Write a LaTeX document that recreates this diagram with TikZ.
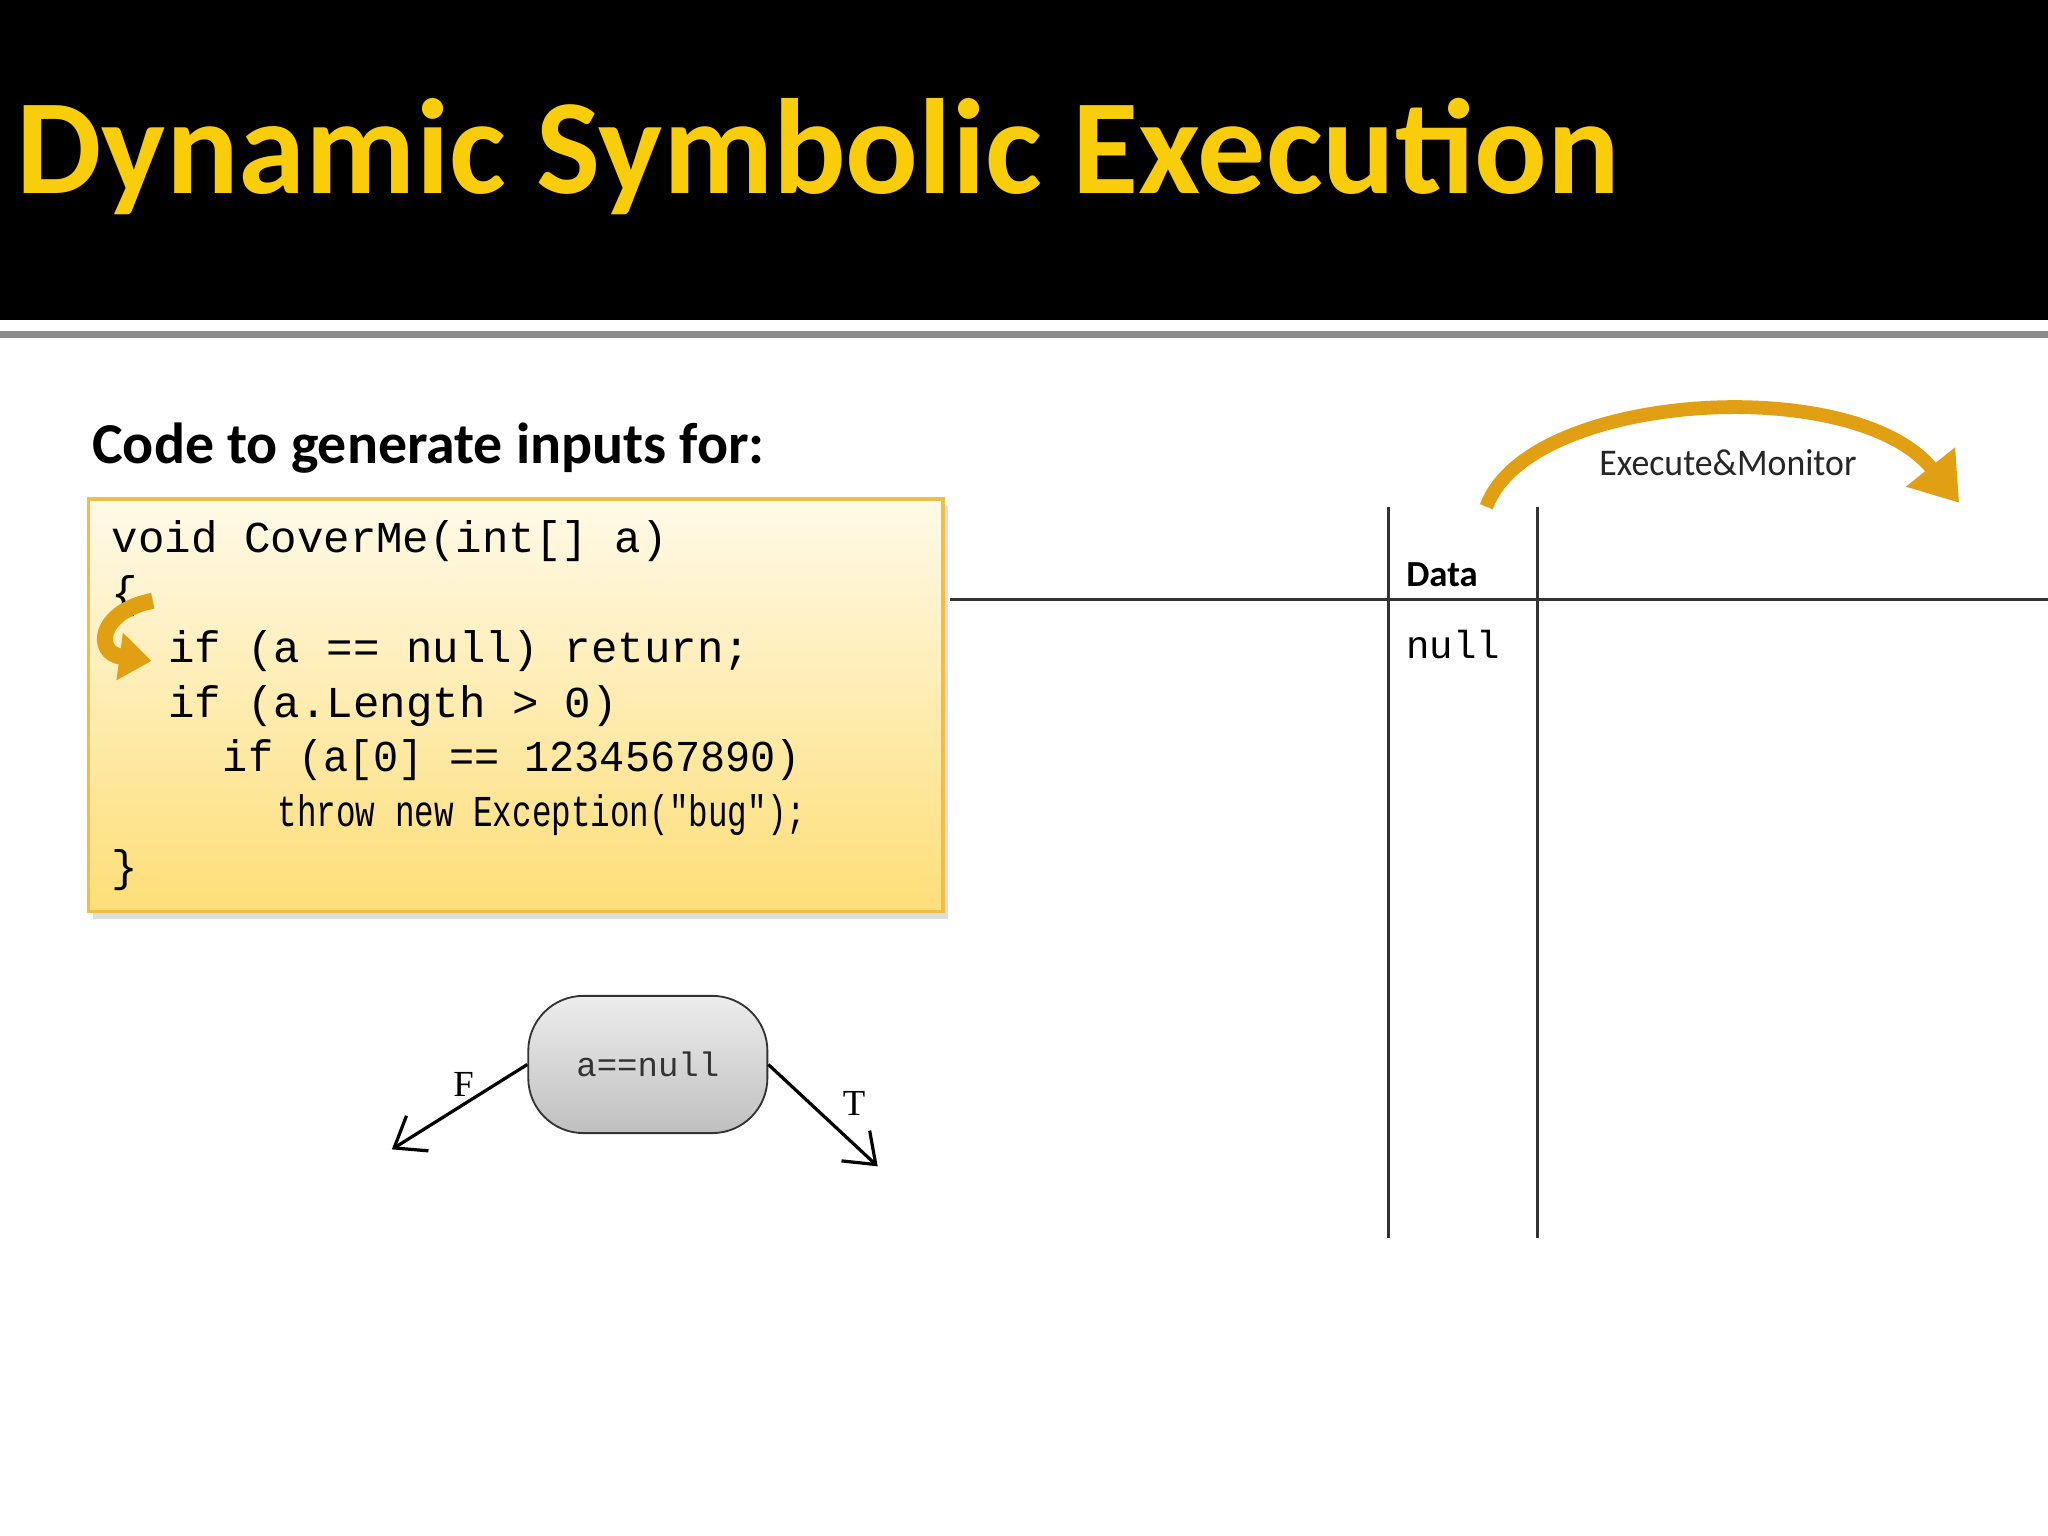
\documentclass[tikz,border=0pt]{standalone}
\usepackage{fontspec}
\setmainfont{Carlito}
\setmonofont{Liberation Mono}
\newfontfamily\serifl{Liberation Serif}
\usetikzlibrary{shadows,arrows.meta}
\definecolor{titley}{RGB}{250,205,10}
\definecolor{boxtop}{RGB}{255,250,232}
\definecolor{boxbot}{RGB}{254,222,120}
\definecolor{boxline}{RGB}{240,190,70}
\definecolor{arrowor}{RGB}{225,160,20}
\tikzset{
  codeline/.style={anchor=base west,inner sep=0pt,font=\ttfamily\fontsize{9.6pt}{10pt}\selectfont},
  tabline/.style={draw=black!80,line width=0.6pt},
  branch/.style={-{Straight Barb[length=6pt,width=9pt]},line width=0.7pt},
  lbl/.style={font=\serifl\fontsize{8pt}{9pt}\selectfont}
}
\begin{document}
\begin{tikzpicture}[x=0.01cm,y=-0.01cm]
\useasboundingbox (0,0) rectangle (1568,1176);
\fill[white] (0,0) rectangle (1568,1176);
\fill[black] (0,0) rectangle (1568,245);
\draw[black!45,line width=1.5pt] (0,256) -- (1568,256);
\node[anchor=base west,inner sep=0pt,text=titley,font=\bfseries\fontsize{29.5pt}{33pt}\selectfont] (title) at (12,148) {Dynamic Symbolic Execution};
\node[anchor=base west,inner sep=0pt,font=\bfseries\fontsize{12.6pt}{14pt}\selectfont] (sub) at (70,355) {Code to generate inputs for:};
% code box
\shade[top color=boxtop,bottom color=boxbot,drop shadow={opacity=0.25,shadow xshift=1pt,shadow yshift=-1.5pt}] (68,382) rectangle (722,698);
\draw[boxline,line width=0.7pt] (68,382) rectangle (722,698);
\node[codeline] (l1) at (85,423) {void CoverMe(int[] a)};
\node[codeline] (l2) at (85,465) {\{};
\node[codeline] (l3) at (128,507) {if (a == null) return;};
\node[codeline] (l4) at (128,549) {if (a.Length > 0)};
\node[codeline,xscale=0.95] (l5) at (170,591) {if (a[0] == 1234567890)};
\node[codeline,xscale=0.74] (l6) at (212,633) {throw new Exception("bug");};
\node[codeline] (l7) at (85,675) {\}};
% curved pointer arrow
\draw[arrowor,line width=3.5pt,-{Triangle[length=7pt,width=10pt]}] (117,460) .. controls (75,468) and (72,500) .. (116,506);
% decision node
\node[draw=black!80,rounded corners=12pt,minimum width=1.83cm,minimum height=1.05cm,top color=black!7,bottom color=black!25,font=\ttfamily\fontsize{7.4pt}{9pt}\selectfont,text=black!80] (dec) at (496,815) {a==null};
\coordinate (fend) at (300,880);
\coordinate (tend) at (672,893);
\draw[branch] (dec.west) -- (fend);
\draw[branch] (dec.east) -- (tend);
\node[lbl] (F) at (355,830) {F};
\node[lbl] (T) at (654,845) {T};
% table
\coordinate (h1) at (727,459); \coordinate (h2) at (1568,459);
\coordinate (v1a) at (1063,388); \coordinate (v1b) at (1063,948);
\coordinate (v2a) at (1177,388); \coordinate (v2b) at (1177,948);
\draw[tabline] (h1) -- (h2);
\draw[tabline] (v1a) -- (v1b);
\draw[tabline] (v2a) -- (v2b);
\node[anchor=base west,inner sep=0pt,font=\bfseries\fontsize{8pt}{9pt}\selectfont] (data) at (1076,449) {Data};
\node[anchor=base west,inner sep=0pt,font=\ttfamily\fontsize{8.5pt}{9pt}\selectfont] (nullv) at (1076,504) {null};
% execute & monitor arrow
\draw[arrowor,line width=3pt,-{Triangle[length=10pt,width=13pt]}] (1138,388) .. controls (1170,300) and (1420,285) .. (1500,385);
\node[font=\fontsize{8.2pt}{10pt}\selectfont,inner sep=0pt,text=black!85,xscale=0.95] (em) at (1323,354) {Execute\&Monitor};
\end{tikzpicture}
\end{document}
